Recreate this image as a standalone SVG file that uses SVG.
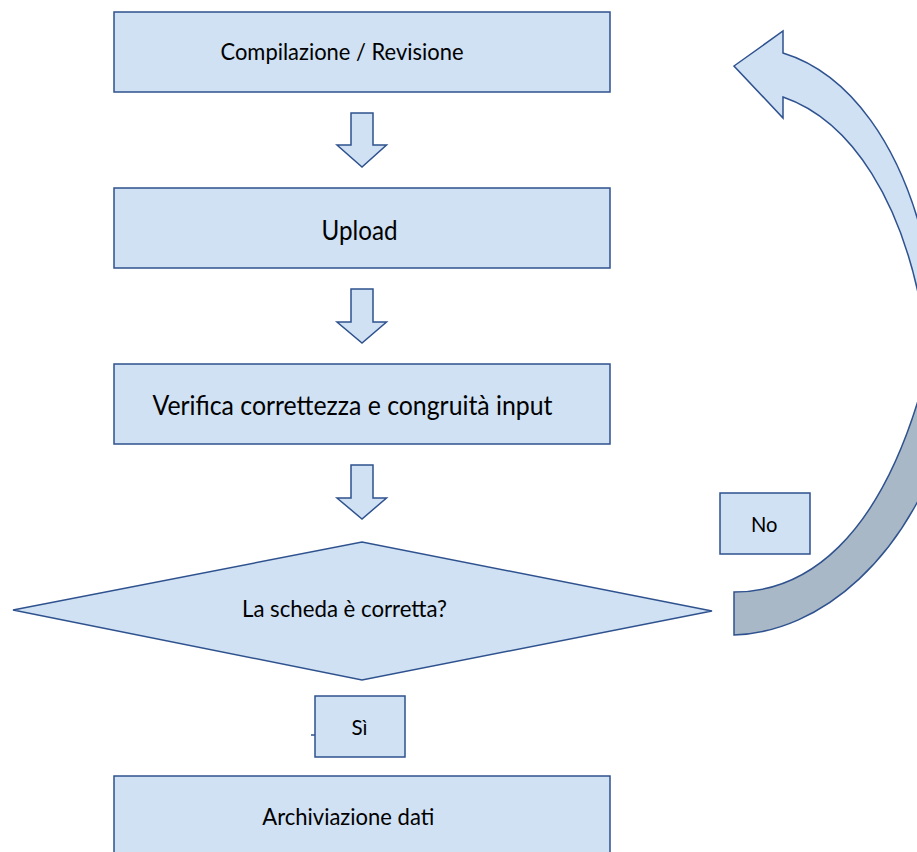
<svg xmlns="http://www.w3.org/2000/svg" width="917" height="852" viewBox="0 0 917 852">
<style>
.box{fill:#cfe1f3;stroke:#2f528f;stroke-width:1.5}
.grey{fill:#a8b8c6;stroke:#2f528f;stroke-width:1.5}
.t{font-family:Lato,"Liberation Sans",sans-serif;fill:#000}
.line{stroke:#2f528f;stroke-width:1.5;fill:none}
</style>
<rect width="917" height="852" fill="#fff"/>
<g id="n-compilazione">
<rect class="box" x="114" y="12" width="496" height="80"/>
<text class="t" x="220.5" y="60" font-size="23" textLength="243" lengthAdjust="spacingAndGlyphs">Compilazione / Revisione</text>
</g>
<g id="n-upload">
<rect class="box" x="114" y="188" width="496" height="80"/>
<text class="t" x="321.5" y="240" font-size="26" textLength="76" lengthAdjust="spacingAndGlyphs">Upload</text>
</g>
<g id="n-verifica">
<rect class="box" x="114" y="364" width="496" height="80"/>
<text class="t" x="152.5" y="415" font-size="26" textLength="400" lengthAdjust="spacingAndGlyphs">Verifica correttezza e congruità input</text>
</g>
<g id="n-decisione">
<polygon class="box" points="13,610 362,542 712,611 362,680"/>
<text class="t" x="242" y="617" font-size="23" textLength="205" lengthAdjust="spacingAndGlyphs">La scheda è corretta?</text>
</g>
<g id="n-archiviazione">
<rect class="box" x="114" y="776" width="496" height="90"/>
<text class="t" x="262.3" y="825" font-size="23" textLength="172" lengthAdjust="spacingAndGlyphs">Archiviazione dati</text>
</g>
<g id="connectors">
<polygon class="box" points="351,113 373,113 373,145 386.5,145 362,167 337,145 351,145"/>
<polygon class="box" points="351,289 373,289 373,322 386.5,322 362,343 337,322 351,322"/>
<polygon class="box" points="351,465 373,465 373,498 386.5,498 362,519 337,498 351,498"/>
<line class="line" x1="311" y1="735" x2="315" y2="735"/>
<path class="box" d="M734,66 L783,31 L783,53 C845,72 905,140 930,270 L960,270 L960,330 L925,330 C905,200 850,120 783,97 L783,118 Z"/>
<path class="grey" d="M734,592 C800,592 882,548 928,365 L960,365 L960,420 L950,420 C910,560 820,632 734,635 Z"/>
</g>
<g id="label-no">
<rect class="box" x="720" y="493" width="90" height="61"/>
<text class="t" x="751" y="532" font-size="22" textLength="26.5" lengthAdjust="spacingAndGlyphs">No</text>
</g>
<g id="label-si">
<rect class="box" x="315" y="696" width="90" height="61"/>
<text class="t" x="351.5" y="735" font-size="22" textLength="16" lengthAdjust="spacingAndGlyphs">Sì</text>
</g>
</svg>
